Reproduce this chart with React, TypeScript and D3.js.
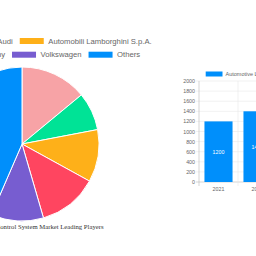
import React, { useEffect, useRef } from 'react'
import * as d3 from 'd3'

const players = ['Porsche AG', 'Audi', 'Automobili Lamborghini S.p.A.', 'Ford Motor Company', 'Volkswagen', 'Others']
const shares = [14, 8, 11, 12.5, 11, 43.5]
const sliceColors = ['#f7a3a6', '#00e396', '#feb019', '#ff4560', '#775dd0', '#008ffb']

const years = ['2021', '2022', '2023', '2024', '2025']
const marketSize = [1200, 1400, 1600, 1800, 1950]
const yTicks = [0, 200, 400, 600, 800, 1000, 1200, 1400, 1600, 1800, 2000]

const pieTitle = 'Automotive Launch Control System Market Leading Players'
const barLabel = 'Automotive Launch Control System Market Size (Million)'

const App = () => {
  const ref = useRef<SVGSVGElement>(null)

  useEffect(() => {
    const svg = d3.select(ref.current)
    svg.selectAll('*').remove()

    // ---- pie ----
    const cx = 22, cy = 144, r = 77
    const pie = d3.pie<number>().sort(null).value(d => d)
    const arc = d3.arc<d3.PieArcDatum<number>>().innerRadius(0).outerRadius(r)
    svg.append('g')
      .attr('transform', `translate(${cx},${cy})`)
      .selectAll('path')
      .data(pie(shares))
      .enter()
      .append('path')
      .attr('d', arc)
      .attr('fill', (d, i) => sliceColors[i])
      .attr('stroke', '#fff')
      .attr('stroke-width', 1)

    // legend, two rows centred on the pie
    const rows = [[0, 1, 2], [3, 4, 5]]
    const rowY = [41, 54.7]
    const box = 24, boxGap = 4.5, itemGap = 7
    rows.forEach((row, ri) => {
      const g = svg.append('g')
      const items = row.map(i => {
        const t = g.append('text')
          .text(players[i])
          .attr('font-family', '"Liberation Sans", Arial, sans-serif')
          .attr('font-size', 7.7)
          .attr('fill', '#666')
          .attr('dominant-baseline', 'central')
          .attr('y', rowY[ri])
        const w = (t.node() as SVGTextElement).getComputedTextLength()
        return { i, t, w }
      })
      const total = d3.sum(items, d => box + boxGap + d.w) + itemGap * (items.length - 1)
      let x = cx - total / 2
      items.forEach(d => {
        g.append('rect')
          .attr('x', x).attr('y', rowY[ri] - 3)
          .attr('width', box).attr('height', 6)
          .attr('fill', sliceColors[d.i])
        d.t.attr('x', x + box + boxGap)
        x += box + boxGap + d.w + itemGap
      })
    })

    svg.append('text')
      .attr('x', cx).attr('y', 229)
      .attr('text-anchor', 'middle')
      .attr('font-family', '"Liberation Serif", "Times New Roman", serif')
      .attr('font-size', 6.7)
      .attr('fill', '#333')
      .text(pieTitle)

    // ---- bar chart ----
    const left = 199, step = 39, top = 81, bottom = 182
    const right = left + step * years.length
    const x = d3.scaleBand().domain(years).range([left, right]).paddingInner(0.28).paddingOuter(0.14)
    const y = d3.scaleLinear().domain([0, 2000]).range([bottom, top])

    const grid = svg.append('g')
    grid.selectAll('line.h')
      .data(yTicks)
      .enter()
      .append('line')
      .attr('x1', left - 3).attr('x2', right)
      .attr('y1', d => y(d)).attr('y2', d => y(d))
      .attr('stroke', d => d === 0 ? '#bbb' : '#e8e8e8')
      .attr('stroke-width', 0.6)
    grid.selectAll('line.v')
      .data(d3.range(years.length + 1))
      .enter()
      .append('line')
      .attr('x1', i => left + i * step).attr('x2', i => left + i * step)
      .attr('y1', top).attr('y2', bottom + 4)
      .attr('stroke', i => i === 0 ? '#bbb' : '#e8e8e8')
      .attr('stroke-width', 0.6)

    svg.append('g')
      .selectAll('text')
      .data(yTicks)
      .enter()
      .append('text')
      .attr('x', left - 4)
      .attr('y', d => y(d))
      .attr('text-anchor', 'end')
      .attr('dominant-baseline', 'central')
      .attr('font-family', '"Liberation Sans", Arial, sans-serif')
      .attr('font-size', 5.3)
      .attr('fill', '#666')
      .text(d => d)

    svg.append('g')
      .selectAll('text')
      .data(years)
      .enter()
      .append('text')
      .attr('x', d => (x(d) as number) + x.bandwidth() / 2)
      .attr('y', 189)
      .attr('text-anchor', 'middle')
      .attr('dominant-baseline', 'central')
      .attr('font-family', '"Liberation Sans", Arial, sans-serif')
      .attr('font-size', 5.3)
      .attr('fill', '#666')
      .text(d => d)

    const bars = svg.append('g')
    bars.selectAll('rect')
      .data(marketSize)
      .enter()
      .append('rect')
      .attr('x', (d, i) => x(years[i]) as number)
      .attr('y', d => y(d))
      .attr('width', x.bandwidth())
      .attr('height', d => bottom - y(d))
      .attr('fill', '#008ffb')
    bars.selectAll('text')
      .data(marketSize)
      .enter()
      .append('text')
      .attr('x', (d, i) => (x(years[i]) as number) + x.bandwidth() / 2)
      .attr('y', d => (y(d) + bottom) / 2)
      .attr('text-anchor', 'middle')
      .attr('dominant-baseline', 'central')
      .attr('font-family', '"Liberation Sans", Arial, sans-serif')
      .attr('font-size', 5.3)
      .attr('fill', '#fff')
      .text(d => d)

    svg.append('rect')
      .attr('x', 205.7).attr('y', 71.5)
      .attr('width', 16.8).attr('height', 5)
      .attr('fill', '#008ffb')
    svg.append('text')
      .attr('x', 225.5).attr('y', 74)
      .attr('dominant-baseline', 'central')
      .attr('font-family', '"Liberation Sans", Arial, sans-serif')
      .attr('font-size', 5.5)
      .attr('fill', '#666')
      .text(barLabel)
  }, [])

  return (
    <svg ref={ref} width={256} height={256}
      style={{ position: 'absolute', left: 0, top: 0, background: '#fff' }} />
  )
}

export default App
